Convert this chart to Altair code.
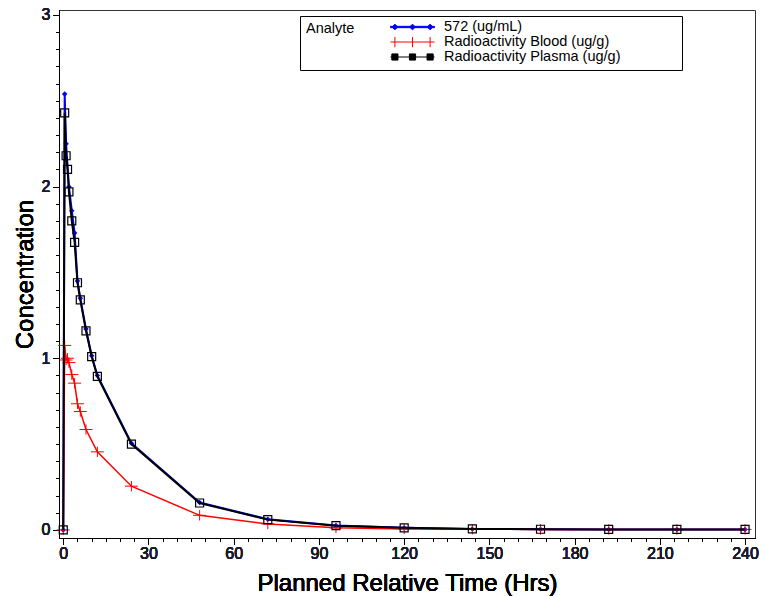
import altair as alt
import pandas as pd

S1 = "572 (ug/mL)"
S2 = "Radioactivity Blood (ug/g)"
S3 = "Radioactivity Plasma (ug/g)"
SERIES = [S1, S2, S3]
COLORS = ["#0000ff", "#ff0000", "#000000"]

t_572 = [0, 0.5, 1, 2, 3, 4, 5, 6, 8, 10, 12, 24, 48, 72, 96, 120, 144, 168, 192, 216, 240]
c_572 = [0, 2.54, 2.25, 2.0, 1.86, 1.73, 1.45, 1.35, 1.17, 1.015, 0.90, 0.505, 0.16, 0.062, 0.026,
         0.012, 0.006, 0.004, 0.003, 0.003, 0.003]

t_blood = [0, 0.5, 1, 1.5, 2, 3, 4, 5, 6, 8, 12, 24, 48, 72, 96, 120, 144, 168, 192, 216, 240]
c_blood = [0, 1.075, 0.99, 1.0, 0.975, 0.905, 0.855, 0.735, 0.69, 0.585, 0.455, 0.255, 0.085, 0.035,
           0.012, 0.006, 0.004, 0.003, 0.003, 0.003, 0.003]

t_plasma = [0, 0.5, 1, 1.5, 2, 3, 4, 5, 6, 8, 10, 12, 24, 48, 72, 96, 120, 144, 168, 192, 216, 240]
c_plasma = [0, 2.43, 2.18, 2.10, 1.97, 1.80, 1.675, 1.44, 1.34, 1.16, 1.01, 0.895, 0.50, 0.157, 0.06,
            0.025, 0.012, 0.006, 0.004, 0.003, 0.003, 0.003]

x_major = [0, 30, 60, 90, 120, 150, 180, 210, 240]
x_minor = list(range(0, 241, 5))
y_major = [0, 1, 2, 3]
y_minor = [i / 10 for i in range(0, 31)]

rows = []
for name, ts, cs in [(S1, t_572, c_572), (S2, t_blood, c_blood), (S3, t_plasma, c_plasma)]:
    for t, c in zip(ts, cs):
        rows.append({"series": name, "time": t, "conc": c})
df = pd.DataFrame(rows)

FONT = "Liberation Sans"
xscale = alt.Scale(domain=[-1.5, 243.5], nice=False, zero=False)
yscale = alt.Scale(domain=[-0.047, 3.029], nice=False, zero=False)
cscale = alt.Scale(domain=SERIES, range=COLORS)

xaxis = alt.Axis(values=x_major, tickSize=6, labelFontSize=16, labelFont=FONT, labelColor="#1a1a2a",
                 titleFontSize=24, titleFont=FONT, titleFontWeight="normal", titleColor="black",
                 grid=False, domainColor="black", tickColor="black", labelPadding=1, titlePadding=10,
                 orient="bottom")
yaxis = alt.Axis(values=y_major, tickSize=6, labelFontSize=16, labelFont=FONT, labelColor="#1a1a2a",
                 titleFontSize=24, titleFont=FONT, titleFontWeight="normal", titleColor="black",
                 grid=False, domainColor="black", tickColor="black", labelPadding=3, titlePadding=4,
                 orient="left")
xaxis_minor = alt.Axis(values=x_minor, tickSize=3.5, labels=False, domain=False, grid=False,
                       tickColor="black", orient="bottom", title="")
yaxis_minor = alt.Axis(values=y_minor, tickSize=3.5, labels=False, domain=False, grid=False,
                       tickColor="black", orient="left", title="")

# legend symbols: line with three markers
P1 = ("M-1,-0.03H1V0.03H-1ZM-0.8,-0.13L-0.67,0L-0.8,0.13L-0.93,0ZM0,-0.13L0.13,0L0,0.13L-0.13,0Z"
      "M0.8,-0.13L0.93,0L0.8,0.13L0.67,0Z")
P2 = "M-1,0H1M-0.8,-0.24V0.24M0,-0.24V0.24M0.8,-0.24V0.24"
P3 = ("M-0.94,-0.14H-0.66V0.14H-0.94ZM-0.14,-0.14H0.14V0.14H-0.14ZM0.66,-0.14H0.94V0.14H0.66Z"
      "M-1,0H1")
LEGEND_SHAPES = [P1, P2, P3]
LEGEND_FILLS = ["#0000ff", "#ffffff", "#ffffff"]

NB = "\u00a0" * 11 + "\u2800"

legend = alt.Legend(
    orient="none", legendX=241, legendY=6, direction="vertical",
    title="Analyte", titleOrient="left", titleAnchor="start", titleBaseline="top",
    titleFontSize=14.5, titleFont=FONT, titleFontWeight="normal",
    titleColor="black", titlePadding=35,
    labelFontSize=14.5, labelFont=FONT, labelColor="black", labelOffset=9, labelLimit=700,
    labelExpr=f"datum.label + '{NB}'",
    symbolSize=1936, clipHeight=10, rowPadding=0, symbolStrokeWidth=1, symbolOpacity=1,
    strokeColor="black", fillColor="white", padding=6,
)

base = alt.Chart(df)


def xy(minor=False):
    return dict(
        x=alt.X("time:Q", scale=xscale, axis=xaxis_minor if minor else xaxis,
                title="" if minor else "Planned Relative Time (Hrs)"),
        y=alt.Y("conc:Q", scale=yscale, axis=yaxis_minor if minor else yaxis,
                title="" if minor else "Concentration"),
    )


styles = {
    S1: dict(line=2, point=dict(shape="diamond", filled=True, size=30)),
    S2: dict(line=1.5, point=dict(shape="M-1,0H1M0,-0.8V0.8", filled=False, size=169, strokeWidth=1)),
    S3: dict(line=2, point=dict(shape="square", filled=False, size=64, strokeWidth=1.2)),
}
layers = []
for s in SERIES:
    sub = base.transform_filter(alt.datum.series == s)
    col = alt.Color("series:N", scale=cscale)
    layers.append(sub.mark_line(strokeWidth=styles[s]["line"]).encode(color=col, **xy()))
    layers.append(sub.mark_point(opacity=1, **styles[s]["point"]).encode(color=col, **xy()))

# empty layer that only carries the legend
legend_layer = base.transform_filter("false").mark_point(filled=False, strokeWidth=1).encode(
    color=alt.Color("series:N", scale=cscale, legend=legend),
    shape=alt.Shape("series:N", scale=alt.Scale(domain=SERIES, range=LEGEND_SHAPES), legend=legend),
    fill=alt.Fill("series:N", scale=alt.Scale(domain=SERIES, range=LEGEND_FILLS), legend=legend),
    **xy(),
)

minor = base.mark_point(opacity=0).encode(**xy(minor=True))

chart = alt.layer(*layers, legend_layer, minor).resolve_axis(
    x="independent", y="independent"
).properties(
    width=696, height=528,
    autosize=alt.AutoSizeParams(type="none"),
    padding={"left": 59, "top": 10, "right": 10, "bottom": 58},
).configure_view(stroke="#333333", strokeWidth=1).configure_axis(domainWidth=1, tickWidth=1)

chart.save("out.html", embed_options={"renderer": "svg", "actions": False})
